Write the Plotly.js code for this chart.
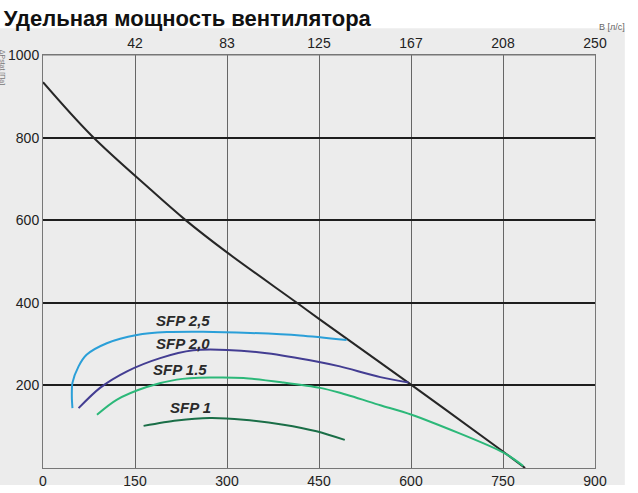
<!DOCTYPE html>
<html>
<head>
<meta charset="utf-8">
<script src="https://cdn.plot.ly/plotly-3.0.1.min.js"></script>
<style>html,body{margin:0;padding:0;background:#fff;}#chart{width:638px;height:493px;}</style>
</head>
<body>
<div id="chart"></div>
<script>
// Air flow m3/h (bottom axis) and pressure Pa
const xTicks = [0, 150, 300, 450, 600, 750, 900];
const xTickText = ["0", "150", "300", "450", "600", "750", "900"];
const topTickText = ["42", "83", "125", "167", "208", "250"];
const yTicks = [200, 400, 600, 800, 1000];
const yTickText = ["200", "400", "600", "800", "1000"];

const fanX = [0, 79, 174, 231, 300, 414, 450, 600, 750, 786];
const fanY = [934, 805, 676, 602, 522, 400, 361, 202, 40, 0];

const sfp25X = [48, 47, 48, 58, 71, 104, 153, 202, 261, 338, 419, 495];
const sfp25Y = [145, 173, 206, 246, 274, 302, 322, 329, 330, 327, 321, 310];

const sfp20X = [58, 93, 137, 191, 245, 300, 365, 446, 484, 550, 596];
const sfp20Y = [145, 194, 234, 266, 285, 286, 278, 258, 246, 220, 207];

const sfp15X = [88, 120, 169, 218, 272, 327, 392, 452, 484, 550, 601, 750, 783];
const sfp15Y = [129, 165, 196, 214, 219, 218, 207, 194, 182, 152, 129, 38, 5];

const sfp10X = [164, 218, 272, 327, 392, 446, 492];
const sfp10Y = [102, 115, 121, 117, 105, 89, 68];

const sfpLabels = ["SFP 2,5", "SFP 2,0", "SFP 1.5", "SFP 1"];
const sfpLabelX = [228, 228, 223, 240];
const sfpLabelY = [356, 301, 238, 146];

const titleText = "Удельная мощность вентилятора";
const topUnit = "В [л/с]";
const yTitle = "ΔPstat [Па]";

const line = (x, y, color, w, sm) => ({x, y, type: 'scatter', mode: 'lines',
  line: {color, width: w, shape: 'spline', smoothing: sm}, hoverinfo: 'skip', showlegend: false});

const traces = [
  line(fanX, fanY, '#262626', 2, 1),
  line(sfp25X, sfp25Y, '#2a9fd8', 2, 0.8),
  line(sfp20X, sfp20Y, '#433d92', 2, 0.8),
  line(sfp15X, sfp15Y, '#2cb879', 2, 0.8),
  line(sfp10X, sfp10Y, '#1a6e47', 2, 0.8),
  {x: [0, 250], y: [0, 0], xaxis: 'x2', type: 'scatter', mode: 'lines',
   line: {width: 0, color: 'rgba(0,0,0,0)'}, hoverinfo: 'skip', showlegend: false}
];

const annotations = sfpLabels.map((t, i) => ({
  x: sfpLabelX[i], y: sfpLabelY[i], text: '<b><i>' + t + '</i></b>', showarrow: false,
  font: {family: 'Liberation Sans, Arial, sans-serif', size: 15, color: '#2a2a2a'},
  xanchor: 'center', yanchor: 'middle'
}));
annotations.push({xref: 'paper', yref: 'paper', x: 1.004, y: 1.05, xanchor: 'left', yanchor: 'bottom',
  text: topUnit, showarrow: false, font: {family: 'Liberation Sans, Arial, sans-serif', size: 9, color: '#666'}});
annotations.push({xref: 'paper', yref: 'paper', x: -0.075, y: 0.97, xanchor: 'center', yanchor: 'middle',
  text: yTitle, textangle: 90, showarrow: false, font: {family: 'Liberation Sans, Arial, sans-serif', size: 7, color: '#777'}});

const tickFont = {family: 'Liberation Sans, Arial, sans-serif', size: 14, color: '#222'};

const layout = {
  width: 638, height: 493,
  margin: {l: 43, r: 43, t: 55, b: 25, pad: 0},
  paper_bgcolor: '#ffffff',
  plot_bgcolor: '#ebebeb',
  title: {text: '<b>' + titleText + '</b>', xref: 'container', yref: 'container',
    x: 0.006, xanchor: 'left', y: 0.962, yanchor: 'middle',
    font: {family: 'Liberation Sans, Arial, sans-serif', size: 22, color: '#111'}},
  xaxis: {range: [0, 900], tickvals: xTicks, ticktext: xTickText, showgrid: true,
    gridcolor: '#666', gridwidth: 1, zeroline: false, showline: true, linecolor: '#777', linewidth: 1,
    mirror: false, ticks: '', tickfont: tickFont, fixedrange: true},
  xaxis2: {range: [0, 250], overlaying: 'x', side: 'top', anchor: 'y',
    tickvals: xTicks.slice(1).map(v => v / 3.6), ticktext: topTickText,
    showgrid: false, zeroline: false, showline: true, linecolor: '#777', linewidth: 1,
    ticks: '', tickfont: tickFont, fixedrange: true},
  yaxis: {range: [0, 1000], tickvals: yTicks, ticktext: yTickText, showgrid: true,
    gridcolor: '#1e1e1e', gridwidth: 2, zeroline: false, showline: true, linecolor: '#777', linewidth: 1,
    mirror: true, ticks: '', tickfont: tickFont, fixedrange: true},
  shapes: [
    {type: 'rect', xref: 'paper', yref: 'paper', x0: -0.078, x1: 1.054, y0: -0.041, y1: 1.065,
     fillcolor: '#ececec', line: {width: 0}, layer: 'below'},
    {type: 'line', xref: 'paper', yref: 'paper', x0: 0, x1: 1, y0: 1, y1: 1, line: {color: '#777', width: 1}}
  ],
  annotations: annotations,
  showlegend: false
};

Plotly.newPlot('chart', traces, layout, {displayModeBar: false, staticPlot: true});
</script>
</body>
</html>
